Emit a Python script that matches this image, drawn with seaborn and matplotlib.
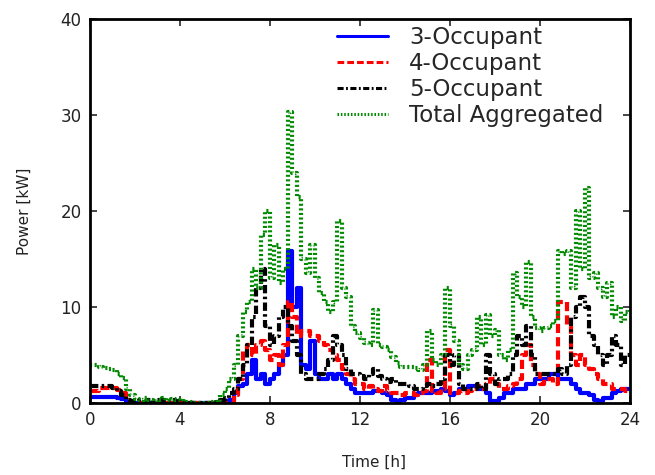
import numpy as np
import pandas as pd
import matplotlib
matplotlib.use("Agg")
import matplotlib.pyplot as plt
from matplotlib.lines import Line2D
import seaborn as sns

# -----------------------
# Data (kW, one value every 0.2 h, 5 values per hour)
# -----------------------

hours = np.linspace(0, 24, 121)

occ3 = [
    0.6, 0.6, 0.6, 0.6, 0.6,   # 0
    0.6, 0.5, 0.4, 0.0, 0.0,   # 1
    0.0, 0.0, 0.0, 0.0, 0.0,   # 2
    0.0, 0.0, 0.0, 0.0, 0.0,   # 3
    0.0, 0.0, 0.0, 0.0, 0.0,   # 4
    0.0, 0.0, 0.0, 0.0, 0.0,   # 5
    0.0, 0.3, 1.0, 1.8, 2.0,   # 6
    3.0, 4.5, 2.5, 3.0, 2.0,   # 7
    2.5, 3.0, 4.0, 5.0, 15.8,  # 8
    10.0, 12.0, 4.0, 3.5, 6.5, # 9
    3.0, 2.5, 2.5, 3.0, 2.5,   # 10
    3.0, 2.5, 2.0, 1.5, 1.0,   # 11
    1.0, 1.0, 1.0, 1.2, 1.2,   # 12
    1.0, 0.8, 0.3, 0.2, 0.3,   # 13
    0.5, 0.5, 0.8, 1.0, 1.0,   # 14
    1.0, 1.2, 1.2, 1.5, 1.2,   # 15
    0.8, 1.0, 1.5, 1.5, 1.8,   # 16
    1.8, 1.5, 1.5, 1.0, 0.2,   # 17
    0.2, 0.5, 1.0, 1.0, 1.5,   # 18
    1.5, 1.5, 2.0, 2.0, 2.5,   # 19
    2.5, 2.5, 3.0, 3.0, 2.5,   # 20
    2.5, 2.5, 2.0, 1.5, 1.0,   # 21
    1.0, 0.8, 0.3, 0.2, 0.5,   # 22
    0.5, 1.0, 1.2, 1.5, 1.5,   # 23
    1.5,
]

occ4 = [
    1.3, 1.3, 1.6, 1.6, 1.6,   # 0
    1.6, 1.4, 1.0, 0.3, 0.0,   # 1
    0.0, 0.0, 0.0, 0.0, 0.0,   # 2
    0.0, 0.0, 0.0, 0.0, 0.0,   # 3
    0.0, 0.0, 0.0, 0.0, 0.0,   # 4
    0.0, 0.0, 0.0, 0.0, 0.0,   # 5
    0.0, 0.0, 0.8, 2.5, 5.5,   # 6
    6.0, 5.0, 6.0, 6.5, 5.5,   # 7
    4.5, 5.0, 4.0, 6.0, 10.5,  # 8
    9.0, 7.0, 7.5, 7.5, 7.0,   # 9
    7.0, 6.5, 6.0, 5.5, 5.0,   # 10
    4.5, 3.5, 3.0, 2.5, 2.0,   # 11
    2.0, 1.5, 1.8, 1.5, 1.2,   # 12
    1.8, 1.2, 1.0, 1.0, 0.8,   # 13
    1.0, 1.0, 0.8, 1.0, 1.2,   # 14
    4.5, 1.2, 1.0, 1.5, 5.5,   # 15
    1.0, 1.0, 1.2, 1.0, 1.2,   # 16
    1.5, 1.8, 1.5, 2.0, 2.5,   # 17
    2.0, 1.5, 1.5, 1.8, 2.0,   # 18
    2.5, 5.0, 6.0, 4.0, 3.0,   # 19
    2.0, 2.5, 2.5, 2.0, 10.5,  # 20
    10.5, 8.0, 5.0, 4.0, 5.0,  # 21
    4.0, 3.5, 3.0, 2.5, 2.0,   # 22
    2.0, 1.5, 1.5, 1.5, 1.2,   # 23
    1.2,
]

occ5 = [
    1.8, 1.8, 1.8, 1.8, 1.8,   # 0
    1.6, 1.2, 0.8, 0.3, 0.2,   # 1
    0.2, 0.3, 0.2, 0.3, 0.2,   # 2
    0.3, 0.3, 0.2, 0.3, 0.2,   # 3
    0.1, 0.0, 0.0, 0.0, 0.0,   # 4
    0.0, 0.0, 0.0, 0.1, 0.3,   # 5
    0.5, 1.0, 1.5, 2.5, 4.0,   # 6
    6.0, 9.0, 12.0, 14.0, 8.0, # 7
    6.0, 7.0, 9.0, 10.0, 8.0,  # 8
    6.5, 5.0, 3.0, 2.5, 2.5,   # 9
    2.5, 3.0, 3.5, 4.5, 7.0,   # 10
    6.0, 5.0, 3.5, 3.0, 3.0,   # 11
    2.8, 2.5, 3.0, 3.5, 2.8,   # 12
    2.5, 2.2, 2.5, 2.0, 2.0,   # 13
    2.0, 1.8, 1.5, 1.5, 1.8,   # 14
    2.0, 1.8, 2.0, 2.5, 5.0,   # 15
    4.0, 5.0, 2.0, 1.5, 1.5,   # 16
    1.5, 2.0, 1.5, 5.0, 3.0,   # 17
    2.0, 2.5, 2.5, 3.0, 5.0,   # 18
    7.0, 6.0, 8.0, 5.0, 3.0,   # 19
    3.0, 3.0, 3.0, 3.0, 3.5,   # 20
    3.0, 4.0, 9.0, 10.0, 11.0, # 21
    10.0, 7.0, 6.0, 5.0, 4.0,  # 22
    5.0, 7.0, 6.0, 4.0, 5.0,   # 23
    5.0,
]

total = [
    4.0, 4.0, 3.8, 3.6, 3.5,     # 0
    3.4, 3.0, 2.6, 1.5, 0.8,     # 1
    0.4, 0.3, 0.5, 0.3, 0.2,     # 2
    0.3, 0.5, 0.2, 0.4, 0.3,     # 3
    0.2, 0.1, 0.1, 0.0, 0.0,     # 4
    0.0, 0.0, 0.1, 0.3, 0.8,     # 5
    1.5, 2.5, 4.0, 7.0, 9.5,     # 6
    10.5, 14.0, 12.0, 17.5, 20.0,# 7
    13.0, 16.5, 12.5, 14.0, 30.3,# 8
    24.0, 21.5, 15.0, 13.5, 16.5,# 9
    13.0, 11.5, 10.5, 9.5, 10.5, # 10
    19.0, 12.0, 11.0, 8.0, 7.3,  # 11
    6.8, 6.2, 6.0, 9.7, 6.0,     # 12
    5.8, 5.5, 4.8, 4.2, 3.8,     # 13
    3.8, 3.7, 3.6, 3.4, 4.0,     # 14
    7.5, 4.5, 4.0, 5.0, 12.0,    # 15
    8.0, 6.5, 4.0, 3.5, 5.0,     # 16
    5.5, 9.0, 6.0, 9.2, 7.0,     # 17
    7.6, 5.0, 4.5, 5.5, 13.5,    # 18
    11.0, 10.0, 14.7, 9.0, 7.8,  # 19
    7.5, 7.8, 8.0, 8.5, 15.8,    # 20
    15.5, 15.8, 12.0, 20.0, 14.0,# 21
    22.4, 13.0, 13.5, 12.0, 11.0,# 22
    12.5, 9.0, 10.0, 8.5, 9.5,   # 23
    9.7,
]

labels = ["3-Occupant", "4-Occupant", "5-Occupant", "Total Aggregated"]
series = [occ3, occ4, occ5, total]
colors = ["#0000ff", "#ff0000", "#000000", "#008a00"]
styles = ["-", (0, (2.2, 1.0)), (0, (2.0, 0.8, 0.6, 0.8)), (0, (0.5, 0.6))]

df = pd.DataFrame({"Time": np.tile(hours, 4),
                   "Power": np.concatenate(series),
                   "Series": np.repeat(labels, len(hours))})

# -----------------------
# Plot
# -----------------------

sns.set_style("ticks")
plt.rcParams["font.family"] = ["DejaVu Sans"]

fig = plt.figure(figsize=(6.55, 4.75), dpi=100)
ax = fig.add_axes([0.1374, 0.1516, 0.8244, 0.8084])

for lab, col, ls in zip(labels, colors, styles):
    sub = df[df["Series"] == lab]
    sns.lineplot(x="Time", y="Power", data=sub, ax=ax, color=col,
                 linestyle=ls, linewidth=3, drawstyle="steps-post",
                 estimator=None, legend=False)

ax.set_xlim(0, 24)
ax.set_ylim(0, 40)
ax.set_xticks([0, 4, 8, 12, 16, 20, 24])
ax.set_yticks([0, 10, 20, 30, 40])
ax.tick_params(direction="in", length=5, width=1.2, top=True, right=True,
               labelsize=12, labelcolor="#222222", pad=6)
for sp in ax.spines.values():
    sp.set_linewidth(2)
    sp.set_color("black")

ax.set_xlabel("Time [h]", fontsize=11, color="#222222")
ax.set_ylabel("Power [kW]", fontsize=11, color="#222222")
ax.xaxis.set_label_coords(0.526, -0.135)
ax.yaxis.set_label_coords(-0.108, 0.5)

handles = [Line2D([], [], color=c, linestyle=s, linewidth=2.2)
           for c, s in zip(colors, styles)]
ax.legend(handles, labels, loc="upper left", bbox_to_anchor=(0.43, 1.02),
          frameon=False, fontsize=16.5, handlelength=2.2, handletextpad=0.95,
          labelspacing=0.13, borderpad=0.15)

plt.savefig("out.png", dpi=100)
plt.close()
